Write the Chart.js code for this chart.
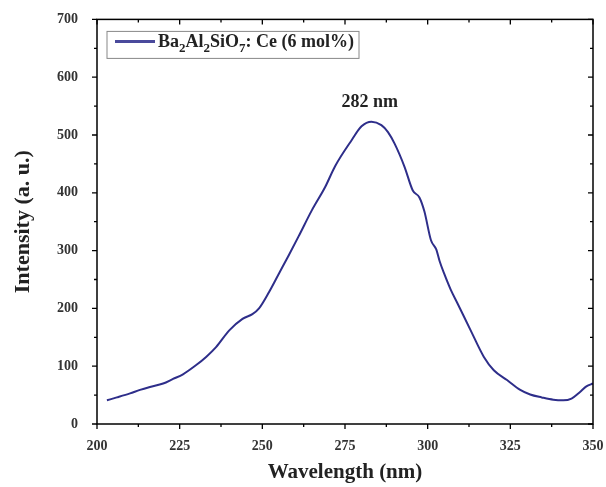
<!DOCTYPE html>
<html>
<head>
<meta charset="utf-8">
<script src="https://cdn.jsdelivr.net/npm/chart.js@4.4.0/dist/chart.umd.min.js"></script>
<style>
  html, body { margin: 0; padding: 0; background: #fff; }
  #wrap { width: 606px; height: 487px; }
</style>
</head>
<body>
<div id="wrap"><canvas id="chart"></canvas></div>
<script>
  "use strict";

  // wavelength (nm) and intensity
  var wavelengths = [203, 206, 210, 213, 216, 220, 223, 226, 230, 233, 236, 240, 244, 247, 249, 252, 255, 258, 261, 265, 269, 272, 277, 280, 283, 286, 288, 290, 293, 295.5, 297.5, 299, 301, 302.6, 303.6, 305, 307, 309, 313, 317, 320, 324, 328, 331, 334.5, 338, 341, 343.5, 346, 348, 350];
  var intensity = [41, 46, 53, 59, 64, 70, 78, 86, 102, 116, 133, 162, 182, 190, 200, 228, 260, 292, 325, 370, 410, 446, 491, 515, 523, 517, 505, 485, 445, 404, 392, 368, 318, 302, 282, 260, 232, 209, 162, 116, 93, 76, 59, 51, 46, 42, 41, 44, 55, 65, 70];
  var xTicks = [200, 225, 250, 275, 300, 325, 350];
  var yTicks = [0, 100, 200, 300, 400, 500, 600, 700];

  var lineColor = '#2e2e8a';
  var serif = '"Liberation Serif", "DejaVu Serif", serif';

  var points = wavelengths.map(function (w, i) {
    return { x: w, y: intensity[i] };
  });

  // frame, ticks (outer on left/bottom, inner on top/right), legend box, peak label
  var framePlugin = {
    id: 'frame',
    afterDraw: function (chart) {
      var ctx = chart.ctx;
      var a = chart.chartArea;
      var xs = chart.scales.x, ys = chart.scales.y;
      ctx.save();
      ctx.strokeStyle = '#000';
      ctx.lineWidth = 1.5;
      ctx.strokeRect(a.left, a.top, a.right - a.left, a.bottom - a.top);

      ctx.lineWidth = 1.3;
      ctx.beginPath();
      for (var v = 200; v <= 350; v += 12.5) {
        var px = xs.getPixelForValue(v);
        var len = (v % 25 === 0) ? 5 : 3;
        ctx.moveTo(px, a.bottom); ctx.lineTo(px, a.bottom + len);
        ctx.moveTo(px, a.top); ctx.lineTo(px, a.top + len);
      }
      for (var u = 0; u <= 700; u += 50) {
        var py = ys.getPixelForValue(u);
        var l2 = (u % 100 === 0) ? 5 : 3;
        ctx.moveTo(a.left, py); ctx.lineTo(a.left - l2, py);
        ctx.moveTo(a.right, py); ctx.lineTo(a.right - l2, py);
      }
      ctx.stroke();

      // legend
      var bx = a.left + 10, by = a.top + 12;
      ctx.lineWidth = 1;
      ctx.strokeStyle = '#888';
      ctx.strokeRect(bx, by, 252, 27);
      ctx.strokeStyle = '#4a4a9c';
      ctx.lineWidth = 3;
      ctx.beginPath();
      ctx.moveTo(bx + 8, by + 10); ctx.lineTo(bx + 48, by + 10);
      ctx.stroke();

      ctx.fillStyle = '#222';
      ctx.textBaseline = 'alphabetic';
      ctx.textAlign = 'left';
      var parts = [['Ba', 0], ['2', 1], ['Al', 0], ['2', 1], ['SiO', 0], ['7', 1], [': Ce (6 mol%)', 0]];
      var tx = bx + 51, ty = by + 16;
      parts.forEach(function (p) {
        ctx.font = 'bold ' + (p[1] ? 13 : 18) + 'px ' + serif;
        ctx.fillText(p[0], tx, ty + (p[1] ? 5 : 0));
        tx += ctx.measureText(p[0]).width;
      });

      // peak label
      ctx.font = 'bold 18px ' + serif;
      ctx.textAlign = 'center';
      ctx.textBaseline = 'middle';
      ctx.fillText('282 nm', xs.getPixelForValue(282.5), 102);
      ctx.restore();
    }
  };

  new Chart(document.getElementById('chart').getContext('2d'), {
    type: 'line',
    data: {
      datasets: [{
        label: 'Ba2Al2SiO7: Ce (6 mol%)',
        data: points,
        borderColor: lineColor,
        borderWidth: 2,
        pointRadius: 0,
        cubicInterpolationMode: 'monotone',
        fill: false
      }]
    },
    options: {
      responsive: true,
      maintainAspectRatio: false,
      animation: false,
      layout: { padding: { top: 19, right: 13, left: 0, bottom: 0 } },
      plugins: {
        legend: { display: false },
        tooltip: { enabled: false }
      },
      scales: {
        x: {
          type: 'linear',
          min: 200,
          max: 350,
          afterBuildTicks: function (scale) {
            scale.ticks = xTicks.map(function (v) { return { value: v }; });
          },
          afterFit: function (scale) {
            scale.height = 63;
            scale.paddingLeft = 0;
            scale.paddingRight = 0;
          },
          grid: { display: false },
          border: { display: false },
          ticks: {
            padding: 6,
            color: '#333',
            maxRotation: 0,
            font: { family: serif, weight: 'bold', size: 14 }
          },
          title: {
            display: true,
            text: 'Wavelength (nm)',
            color: '#222',
            padding: { top: 0, bottom: 2 },
            font: { family: serif, weight: 'bold', size: 21 }
          }
        },
        y: {
          min: 0,
          max: 700,
          afterBuildTicks: function (scale) {
            scale.ticks = yTicks.map(function (v) { return { value: v }; });
          },
          afterFit: function (scale) { scale.width = 97; },
          grid: { display: false },
          border: { display: false },
          ticks: {
            padding: 11,
            color: '#333',
            font: { family: serif, weight: 'bold', size: 14 }
          },
          title: {
            display: true,
            text: 'Intensity (a. u.)',
            color: '#222',
            padding: { top: 10, bottom: 0 },
            font: { family: serif, weight: 'bold', size: 22 }
          }
        }
      }
    },
    plugins: [framePlugin]
  });
</script>
</body>
</html>
